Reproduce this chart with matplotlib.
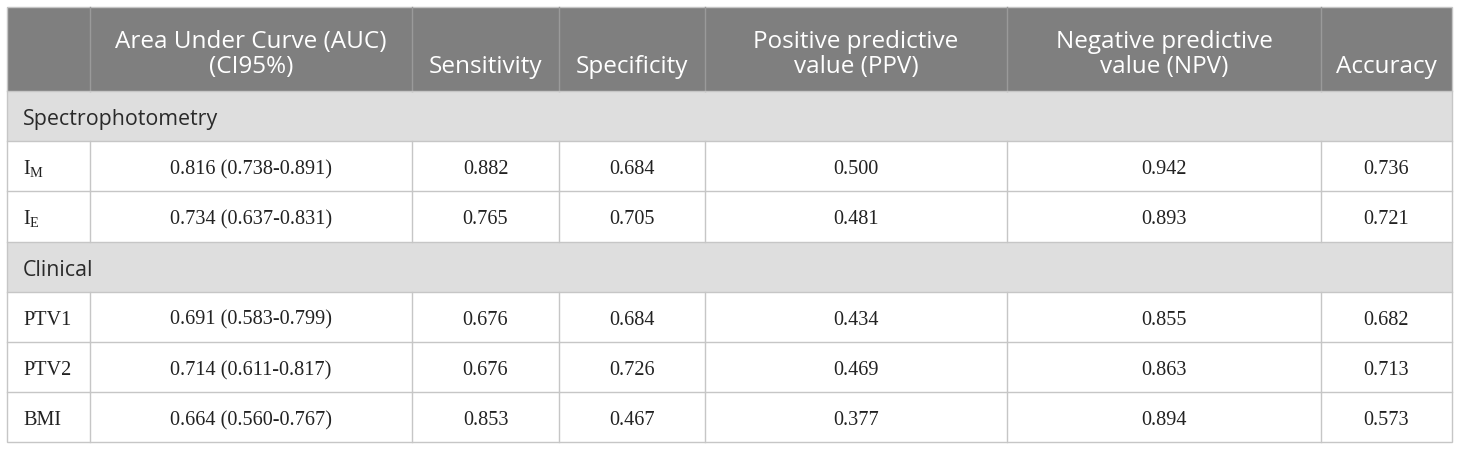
import matplotlib
matplotlib.use("Agg")
import matplotlib.pyplot as plt
from matplotlib.patches import Rectangle

# ----------------------------
# Table content
# ----------------------------
HEADERS = ["", "Area Under Curve (AUC)\n(CI95%)", "Sensitivity", "Specificity",
           "Positive predictive\nvalue (PPV)", "Negative predictive\nvalue (NPV)", "Accuracy"]

SECTIONS = ["Spectrophotometry", "Clinical"]

ROW_LABELS = [[r"$\mathrm{I}_{\mathrm{M}}$", r"$\mathrm{I}_{\mathrm{E}}$"],
              ["PTV1", "PTV2", "BMI"]]

AUC = [["0.816 (0.738-0.891)", "0.734 (0.637-0.831)"],
       ["0.691 (0.583-0.799)", "0.714 (0.611-0.817)", "0.664 (0.560-0.767)"]]
SENSITIVITY = [["0.882", "0.765"], ["0.676", "0.676", "0.853"]]
SPECIFICITY = [["0.684", "0.705"], ["0.684", "0.726", "0.467"]]
PPV = [["0.500", "0.481"], ["0.434", "0.469", "0.377"]]
NPV = [["0.942", "0.893"], ["0.855", "0.863", "0.894"]]
ACCURACY = [["0.736", "0.721"], ["0.682", "0.713", "0.573"]]

# ----------------------------
# Layout (pixels)
# ----------------------------
W, H = 1460, 450
COL_X = [7, 90, 412, 559, 705, 1007, 1321, 1452]
TOP = 7
HEADER_BOTTOM = 91
ROW_H = 50.2

HEADER_BG = "#7f7f7f"
SECTION_BG = "#dedede"
GRID = "#c6c6c6"
TEXT = "#222222"

plt.rcParams["mathtext.fontset"] = "custom"
plt.rcParams["mathtext.rm"] = "Liberation Serif"
plt.rcParams["mathtext.it"] = "Liberation Serif:italic"

fig = plt.figure(figsize=(W / 100, H / 100), dpi=100)
ax = fig.add_axes([0, 0, 1, 1])
ax.set_xlim(0, W)
ax.set_ylim(H, 0)
ax.axis("off")

left, right = COL_X[0], COL_X[-1]

# header
ax.add_patch(Rectangle((left, TOP), right - left, HEADER_BOTTOM - TOP, facecolor=HEADER_BG, edgecolor="none"))
for x in COL_X[1:-1]:
    ax.plot([x, x], [TOP, HEADER_BOTTOM], color="#9a9a9a", lw=1)
for i, h in enumerate(HEADERS):
    if not h:
        continue
    cx = (COL_X[i] + COL_X[i + 1]) / 2
    ax.text(cx, HEADER_BOTTOM - 12, h, ha="center", va="bottom", color="white",
            fontsize=17.5, family="Open Sans", linespacing=1.06, multialignment="center")

columns = [AUC, SENSITIVITY, SPECIFICITY, PPV, NPV, ACCURACY]

y = HEADER_BOTTOM
for s, sec in enumerate(SECTIONS):
    ax.add_patch(Rectangle((left, y), right - left, ROW_H, facecolor=SECTION_BG, edgecolor="none"))
    ax.text(left + 16, y + ROW_H / 2 + 9, sec, ha="left", va="baseline", color="#2a2a2a",
            fontsize=15.4, family="Open Sans")
    ax.plot([left, right], [y, y], color=GRID, lw=1)
    y += ROW_H
    for r, lab in enumerate(ROW_LABELS[s]):
        ax.plot([left, right], [y, y], color=GRID, lw=1)
        for x in COL_X[1:-1]:
            ax.plot([x, x], [y, y + ROW_H], color=GRID, lw=1)
        base = y + ROW_H / 2 + 8
        ax.text(left + 16, base, lab, ha="left", va="baseline", color=TEXT,
                fontsize=14.6, family="Liberation Serif")
        for c, col in enumerate(columns):
            cx = (COL_X[c + 1] + COL_X[c + 2]) / 2
            ax.text(cx, base, col[s][r], ha="center", va="baseline", color=TEXT,
                    fontsize=14.6, family="Liberation Serif")
        y += ROW_H

# outer border
ax.add_patch(Rectangle((left, TOP), right - left, y - TOP, facecolor="none", edgecolor=GRID, lw=1))

fig.savefig("out.png", dpi=100)
